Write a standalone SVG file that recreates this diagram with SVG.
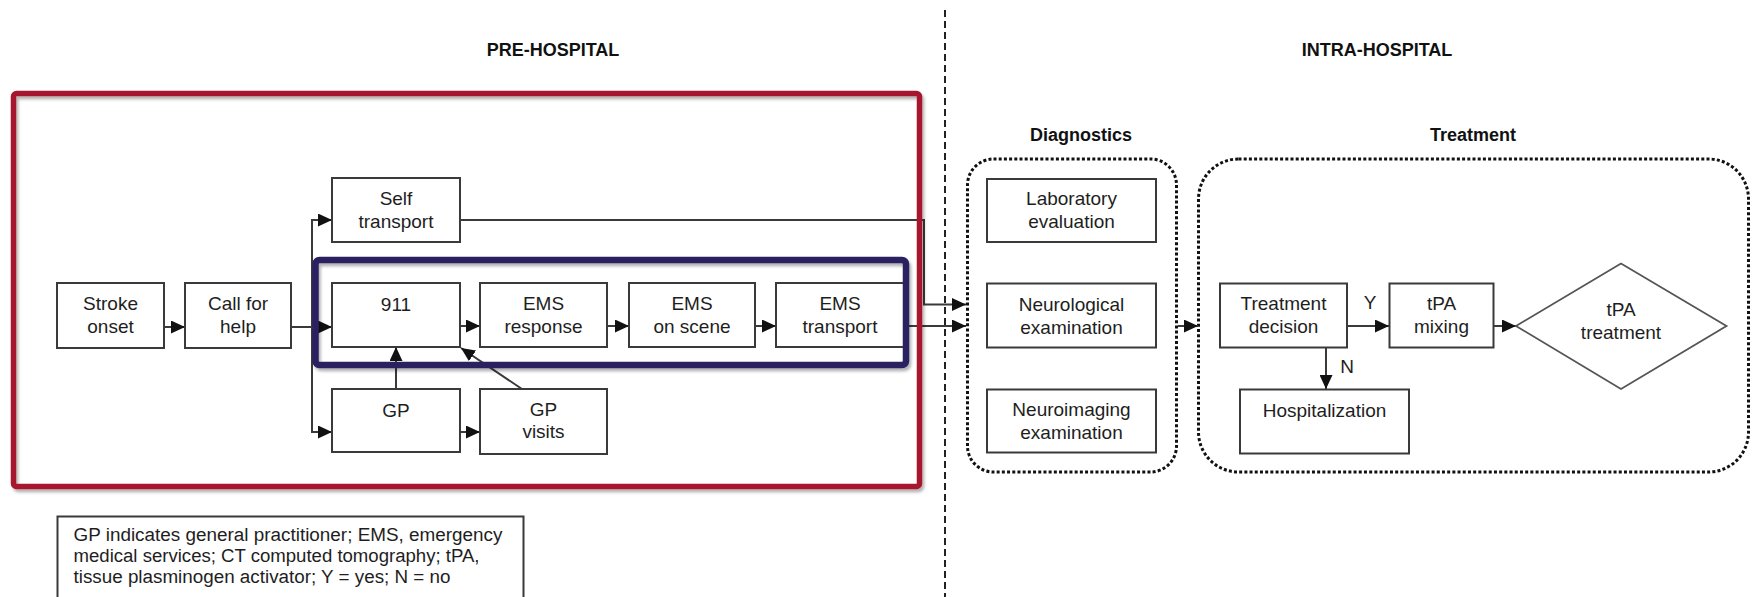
<svg xmlns="http://www.w3.org/2000/svg" width="1754" height="597" viewBox="0 0 1754 597">
  <style>
    .box { fill: #ffffff; stroke: #3a3a3a; stroke-width: 2; }
    .lbl { font-family: "Liberation Sans", Arial, sans-serif; font-size: 19px; fill: #1e1e1e; text-anchor: middle; }
    .head { font-family: "Liberation Sans", Arial, sans-serif; font-size: 18px; font-weight: bold; fill: #111111; text-anchor: middle; }
    .note { font-family: "Liberation Sans", Arial, sans-serif; font-size: 18px; fill: #1e1e1e; }
    .wire { fill: none; stroke: #3a3a3a; stroke-width: 2; }
    .arrow { marker-end: url(#head); }
    .group { fill: none; stroke: #111111; stroke-width: 3; stroke-dasharray: 3 2.2; }
  </style>
  <defs>
    <marker id="head" viewBox="0 0 14 13" refX="14" refY="6.5" markerWidth="14" markerHeight="13" markerUnits="userSpaceOnUse" orient="auto">
      <path d="M0,0 L14,6.5 L0,13 z" fill="#111111"/>
    </marker>
    <filter id="shade" x="-5%" y="-5%" width="110%" height="115%">
      <feDropShadow dx="2" dy="3" stdDeviation="1.5" flood-color="#000000" flood-opacity="0.3"/>
    </filter>
  </defs>

  <rect width="1754" height="597" fill="#ffffff"/>

  <!-- phase divider and headings -->
  <line x1="945" y1="10" x2="945" y2="597" stroke="#222222" stroke-width="2" stroke-dasharray="7 4"/>
  <text class="head" x="553" y="56">PRE-HOSPITAL</text>
  <text class="head" x="1377" y="56">INTRA-HOSPITAL</text>
  <text class="head" x="1081" y="141">Diagnostics</text>
  <text class="head" x="1473" y="141">Treatment</text>

  <!-- group containers -->
  <rect id="diagnostics-group" class="group" x="967.5" y="159" width="209" height="313" rx="26"/>
  <rect id="treatment-group" class="group" x="1198.5" y="159" width="550" height="313" rx="40"/>

  <!-- connectors -->
  <g id="connectors">
    <path class="wire arrow" d="M164,327 H185"/>
    <path class="wire arrow" d="M291,327 H332"/>
    <path class="wire arrow" d="M312,327 V220 H332"/>
    <path class="wire arrow" d="M312,327 V432 H332"/>
    <path class="wire arrow" d="M460,326 H480"/>
    <path class="wire arrow" d="M607,326 H629"/>
    <path class="wire arrow" d="M755,326 H776"/>
    <path class="wire arrow" d="M460,432 H480"/>
    <path class="wire arrow" d="M396,389 V347"/>
    <path class="wire arrow" d="M522,389 L461,348"/>
    <path class="wire arrow" d="M460,220 H924 V304.5 H966"/>
    <path class="wire arrow" d="M904,326 H966"/>
    <path class="wire arrow" d="M1178,326 H1198"/>
    <path class="wire arrow" d="M1347,326 H1389"/>
    <path class="wire arrow" d="M1326,348 V389"/>
    <path class="wire arrow" d="M1494,326 H1516"/>
    <text class="lbl" x="1370" y="309">Y</text>
    <text class="lbl" x="1347" y="373">N</text>
  </g>

  <!-- pre-hospital nodes -->
  <g id="stroke-onset">
    <rect class="box" x="57" y="283" width="107" height="65"/>
    <text class="lbl" x="110.5" y="310">Stroke</text>
    <text class="lbl" x="110.5" y="333">onset</text>
  </g>
  <g id="call-for-help">
    <rect class="box" x="185" y="283" width="106" height="65"/>
    <text class="lbl" x="238" y="310">Call for</text>
    <text class="lbl" x="238" y="333">help</text>
  </g>
  <g id="self-transport">
    <rect class="box" x="332" y="178" width="128" height="64"/>
    <text class="lbl" x="396" y="205">Self</text>
    <text class="lbl" x="396" y="228">transport</text>
  </g>
  <g id="call-911">
    <rect class="box" x="332" y="283" width="128" height="64"/>
    <text class="lbl" x="396" y="311">911</text>
  </g>
  <g id="ems-response">
    <rect class="box" x="480" y="283" width="127" height="64"/>
    <text class="lbl" x="543.5" y="310">EMS</text>
    <text class="lbl" x="543.5" y="333">response</text>
  </g>
  <g id="ems-on-scene">
    <rect class="box" x="629" y="283" width="126" height="64"/>
    <text class="lbl" x="692" y="310">EMS</text>
    <text class="lbl" x="692" y="333">on scene</text>
  </g>
  <g id="ems-transport">
    <rect class="box" x="776" y="283" width="128" height="64"/>
    <text class="lbl" x="840" y="310">EMS</text>
    <text class="lbl" x="840" y="333">transport</text>
  </g>
  <g id="gp">
    <rect class="box" x="332" y="389" width="128" height="63"/>
    <text class="lbl" x="396" y="417">GP</text>
  </g>
  <g id="gp-visits">
    <rect class="box" x="480" y="389" width="127" height="65"/>
    <text class="lbl" x="543.5" y="416">GP</text>
    <text class="lbl" x="543.5" y="438">visits</text>
  </g>

  <!-- highlight frames -->
  <rect id="ems-frame" x="315.5" y="260" width="590.5" height="105" rx="4" fill="none" stroke="#2c2060" stroke-width="6.5" filter="url(#shade)"/>
  <rect id="pre-hospital-frame" x="13.5" y="93.5" width="906" height="393" rx="3" fill="none" stroke="#a7192f" stroke-width="5.5" filter="url(#shade)"/>

  <!-- diagnostics nodes -->
  <g id="laboratory-evaluation">
    <rect class="box" x="987" y="179" width="169" height="63"/>
    <text class="lbl" x="1071.5" y="205">Laboratory</text>
    <text class="lbl" x="1071.5" y="227.5">evaluation</text>
  </g>
  <g id="neurological-examination">
    <rect class="box" x="987" y="283.5" width="169" height="64"/>
    <text class="lbl" x="1071.5" y="311">Neurological</text>
    <text class="lbl" x="1071.5" y="333.5">examination</text>
  </g>
  <g id="neuroimaging-examination">
    <rect class="box" x="987" y="389.5" width="169" height="63"/>
    <text class="lbl" x="1071.5" y="416">Neuroimaging</text>
    <text class="lbl" x="1071.5" y="439">examination</text>
  </g>

  <!-- treatment nodes -->
  <g id="treatment-decision">
    <rect class="box" x="1220" y="283.5" width="127" height="64"/>
    <text class="lbl" x="1283.5" y="310">Treatment</text>
    <text class="lbl" x="1283.5" y="332.5">decision</text>
  </g>
  <g id="tpa-mixing">
    <rect class="box" x="1389.5" y="283.5" width="104" height="64"/>
    <text class="lbl" x="1441.5" y="310">tPA</text>
    <text class="lbl" x="1441.5" y="332.5">mixing</text>
  </g>
  <g id="tpa-treatment">
    <polygon points="1516,326 1621,263.5 1726.5,326 1621,389" fill="#ffffff" stroke="#555555" stroke-width="1.8"/>
    <text class="lbl" x="1621" y="316">tPA</text>
    <text class="lbl" x="1621" y="339">treatment</text>
  </g>
  <g id="hospitalization">
    <rect class="box" x="1240" y="389.5" width="169" height="64"/>
    <text class="lbl" x="1324.5" y="416.5">Hospitalization</text>
  </g>

  <!-- abbreviations -->
  <g id="legend">
    <rect class="box" x="57.5" y="516.5" width="466" height="100"/>
    <text class="note" x="73.5" y="541" textLength="429" lengthAdjust="spacingAndGlyphs">GP indicates general practitioner; EMS, emergency</text>
    <text class="note" x="73.5" y="562" textLength="406" lengthAdjust="spacingAndGlyphs">medical services; CT computed tomography; tPA,</text>
    <text class="note" x="73.5" y="583" textLength="377" lengthAdjust="spacingAndGlyphs">tissue plasminogen activator; Y = yes; N = no</text>
  </g>
</svg>
